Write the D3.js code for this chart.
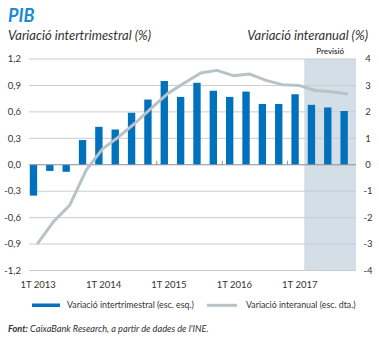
<!DOCTYPE html>
<html><head><meta charset="utf-8">
<script src="https://cdn.jsdelivr.net/npm/d3@7"></script>
<style>
body{margin:0;background:#fff;}
svg{display:block;font-family:Lato, "Open Sans", sans-serif;}
</style></head>
<body>
<svg id="c" width="379" height="338"></svg>
<script>
const quarters = ["1T 2013","2T 2013","3T 2013","4T 2013","1T 2014","2T 2014","3T 2014","4T 2014",
  "1T 2015","2T 2015","3T 2015","4T 2015","1T 2016","2T 2016","3T 2016","4T 2016",
  "1T 2017","2T 2017","3T 2017","4T 2017"];
const qoq = [-0.35,-0.07,-0.08,0.28,0.43,0.40,0.59,0.74,0.95,0.77,0.93,0.84,0.77,0.83,0.69,0.69,0.80,0.68,0.65,0.61];
const yoy = [-3.0,-2.15,-1.52,-0.2,0.6,1.06,1.58,2.15,2.7,3.09,3.47,3.57,3.37,3.43,3.19,3.03,3.0,2.81,2.76,2.68];
const leftTicks = [-1.2,-0.9,-0.6,-0.3,0,0.3,0.6,0.9,1.2];
const rightTicks = [-4,-3,-2,-1,0,1,2,3,4];
const xLabels = ["1T 2013","1T 2014","1T 2015","1T 2016","1T 2017"];
const forecastStart = "2T 2017";

const svg = d3.select("#c");
const L = 29, R = 356, T = 59, B = 270.5;
const x = d3.scaleBand().domain(quarters).range([L, R]);
const yL = d3.scaleLinear().domain([-1.2, 1.2]).range([B, T]);
const yR = d3.scaleLinear().domain([-4, 4]).range([B, T]);

// forecast shading
svg.append("rect")
  .attr("x", x(forecastStart) - 2.7).attr("y", T)
  .attr("width", R - (x(forecastStart) - 2.7)).attr("height", B - T)
  .attr("fill", "#d3dee6");

// gridlines
svg.append("g").selectAll("line").data(leftTicks.filter(d => d !== 0)).join("line")
  .attr("x1", L).attr("x2", R)
  .attr("y1", d => yL(d)).attr("y2", d => yL(d))
  .attr("stroke", "#c9cccf").attr("stroke-width", 1);

// bars
const bw = x.bandwidth() * 0.45;
svg.append("g").selectAll("rect").data(quarters).join("rect")
  .attr("x", (d) => x(d) + 0.8)
  .attr("width", bw)
  .attr("y", (d, i) => Math.min(yL(qoq[i]), yL(0)))
  .attr("height", (d, i) => Math.abs(yL(qoq[i]) - yL(0)))
  .attr("fill", "#0071bc");

// zero line
svg.append("line").attr("x1", L).attr("x2", R).attr("y1", yL(0)).attr("y2", yL(0))
  .attr("stroke", "#8a8f93").attr("stroke-width", 1);
// year ticks
svg.append("g").selectAll("line").data(["1T 2015","1T 2016","1T 2017"]).join("line")
  .attr("x1", d => x(d) - 3).attr("x2", d => x(d) - 3)
  .attr("y1", yL(0) - 4).attr("y2", yL(0))
  .attr("stroke", "#8a8f93");

// line
const line = d3.line().x((d, i) => x(quarters[i]) + x.bandwidth() / 2).y(d => yR(d));
svg.append("path").datum(yoy).attr("d", line)
  .attr("fill", "none").attr("stroke", "#b8c2c7").attr("stroke-width", 3)
  .attr("stroke-linejoin", "round");

// left axis labels
const fmt = d => d3.format(".1f")(d).replace(".", ",").replace("−", "-");
svg.append("g").selectAll("text").data(leftTicks).join("text")
  .attr("x", 21).attr("y", d => yL(d) + 3.3)
  .attr("text-anchor", "end").attr("font-size", 9.5).attr("fill", "#333")
  .text(d => fmt(d));
// right axis labels
svg.append("g").selectAll("text").data(rightTicks).join("text")
  .attr("x", 368).attr("y", d => yR(d) + 3.3)
  .attr("text-anchor", "middle").attr("font-size", 9.5).attr("fill", "#333")
  .text(d => String(d));
// x labels
svg.append("g").selectAll("text").data(xLabels).join("text")
  .attr("x", d => x(d) + x.bandwidth() / 2 + 1).attr("y", 288)
  .attr("text-anchor", "middle").attr("font-size", 9.5).attr("fill", "#333")
  .text(d => d);

// Previsió
svg.append("text").attr("x", (x(forecastStart) - 2.7 + R) / 2).attr("y", 54)
  .attr("text-anchor", "middle").attr("font-size", 8).attr("fill", "#333").attr("font-weight", 600)
  .text("Previsió");

// titles
svg.append("text").attr("x", 8).attr("y", 22).attr("font-size", 18).attr("font-weight", "bold")
  .attr("font-style", "italic").attr("fill", "#1a8ad4").text("PIB");
svg.append("text").attr("x", 8).attr("y", 39.5).attr("font-size", 13).attr("font-style", "italic")
  .attr("fill", "#333").text("Variació intertrimestral (%)");
svg.append("text").attr("x", 368).attr("y", 39.5).attr("font-size", 13).attr("font-style", "italic")
  .attr("text-anchor", "end").attr("fill", "#333").text("Variació interanual (%)");

// legend
svg.append("rect").attr("x", 32).attr("y", 303.5).attr("width", 28).attr("height", 3.5).attr("fill", "#0071bc");
svg.append("text").attr("x", 67).attr("y", 308).attr("font-size", 8.8).attr("fill", "#333")
  .text("Variació intertrimestral (esc. esq.)");
svg.append("line").attr("x1", 207).attr("x2", 237).attr("y1", 305.3).attr("y2", 305.3)
  .attr("stroke", "#b8c2c7").attr("stroke-width", 3);
svg.append("text").attr("x", 246).attr("y", 308).attr("font-size", 8.8).attr("fill", "#333")
  .text("Variació interanual (esc. dta.)");

// source
const src = svg.append("text").attr("x", 8).attr("y", 332).attr("font-size", 9.2).attr("fill", "#333")
  .attr("font-style", "italic");
src.append("tspan").attr("font-weight", "bold").text("Font:");
src.append("tspan").text(" CaixaBank Research, a partir de dades de l'INE.");
</script>
</body></html>
